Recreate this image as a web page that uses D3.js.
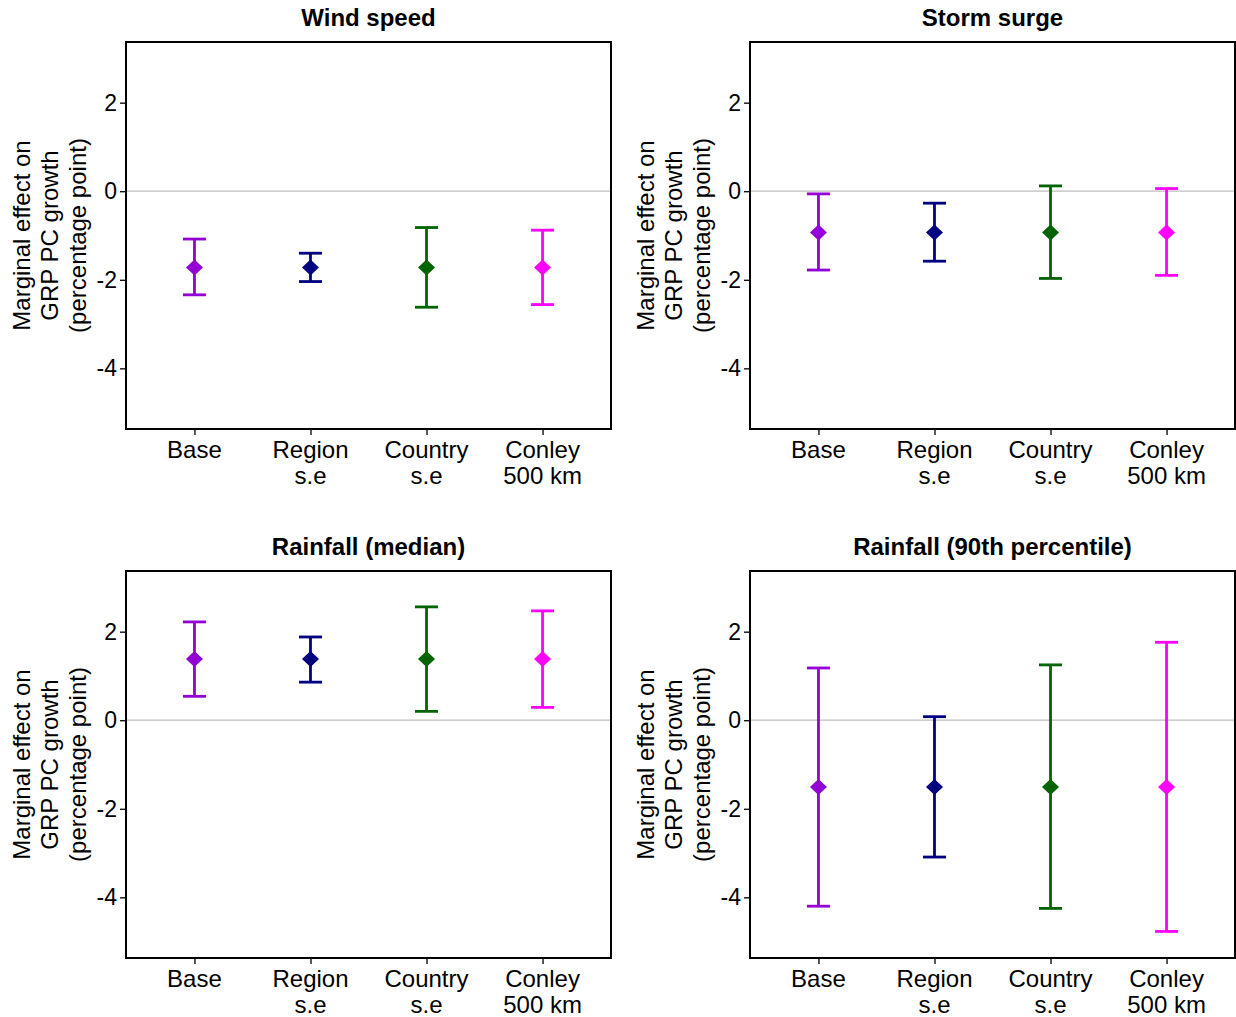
<!DOCTYPE html>
<html>
<head>
<meta charset="utf-8">
<script src="https://cdn.jsdelivr.net/npm/d3@7"></script>
<style>
  body { margin: 0; background: #fff; }
  text { font-family: "Liberation Sans", Arial, sans-serif; fill: #000; }
</style>
</head>
<body>
<div id="chart"></div>
<script>
// Data
const categories = ["Base", "Region\ns.e", "Country\ns.e", "Conley\n500 km"];
const colors = ["#9400d3", "#000080", "#006400", "#ff00ff"];
const panelTitles = ["Wind speed", "Storm surge", "Rainfall (median)", "Rainfall (90th percentile)"];
const estimates = [-1.72, -0.93, 1.38, -1.51];
const lowerCI = [
  [-2.34, -2.04, -2.62, -2.56],
  [-1.78, -1.58, -1.97, -1.90],
  [0.54, 0.86, 0.20, 0.29],
  [-4.20, -3.09, -4.25, -4.77]
];
const upperCI = [
  [-1.08, -1.40, -0.82, -0.88],
  [-0.06, -0.27, 0.12, 0.06],
  [2.22, 1.88, 2.56, 2.47],
  [1.18, 0.08, 1.25, 1.76]
];
const yTicks = [-4, -2, 0, 2];
const yLabelLines = ["Marginal effect on", "GRP PC growth", "(percentage point)"];

const width = 1236, height = 1017;
const svg = d3.select("#chart").append("svg")
  .attr("width", width).attr("height", height);

const panelW = 485, panelH = 387;
const origins = [[126, 42], [750, 42], [126, 571], [750, 571]];

const x = d3.scalePoint().domain(categories).range([0, panelW]).padding(0.59);
const y = d3.scaleLinear().domain([-5.37, 3.37]).range([panelH, 0]);

panelTitles.forEach((title, p) => {
  const g = svg.append("g").attr("transform", `translate(${origins[p][0]},${origins[p][1]})`);

  // zero line
  g.append("line")
    .attr("x1", 0).attr("x2", panelW)
    .attr("y1", y(0)).attr("y2", y(0))
    .attr("stroke", "#bebebe").attr("stroke-width", 1.3);

  // error bars
  const rows = categories.map((c, i) => ({ c, i, lo: lowerCI[p][i], hi: upperCI[p][i], est: estimates[p] }));
  const bars = g.selectAll(".bar").data(rows).join("g").attr("class", "bar")
    .attr("stroke", d => colors[d.i]).attr("stroke-width", 2.8);
  bars.append("line")
    .attr("x1", d => x(d.c)).attr("x2", d => x(d.c))
    .attr("y1", d => y(d.lo)).attr("y2", d => y(d.hi));
  bars.append("line")
    .attr("x1", d => x(d.c) - 11.5).attr("x2", d => x(d.c) + 11.5)
    .attr("y1", d => y(d.lo)).attr("y2", d => y(d.lo));
  bars.append("line")
    .attr("x1", d => x(d.c) - 11.5).attr("x2", d => x(d.c) + 11.5)
    .attr("y1", d => y(d.hi)).attr("y2", d => y(d.hi));

  // diamonds
  g.selectAll(".pt").data(rows).join("path").attr("class", "pt")
    .attr("d", d => {
      const cx = x(d.c), cy = y(d.est), w = 8.5, h = 8;
      return `M${cx},${cy - h}L${cx + w},${cy}L${cx},${cy + h}L${cx - w},${cy}Z`;
    })
    .attr("fill", d => colors[d.i]);

  // frame
  g.append("rect")
    .attr("width", panelW).attr("height", panelH)
    .attr("fill", "none").attr("stroke", "#000").attr("stroke-width", 2);

  // y axis
  const yAxis = g.append("g")
    .call(d3.axisLeft(y).tickValues(yTicks).tickSize(6).tickPadding(3).tickFormat(d => String(d)));
  yAxis.select(".domain").remove();
  yAxis.selectAll("line").attr("stroke", "#000").attr("stroke-width", 1.3);
  yAxis.selectAll("text").attr("font-size", 23).attr("font-family", "Liberation Sans, Arial, sans-serif");

  // x axis
  const xAxis = g.append("g").attr("transform", `translate(0,${panelH})`)
    .call(d3.axisBottom(x).tickSize(6).tickFormat(""));
  xAxis.select(".domain").remove();
  xAxis.selectAll("line").attr("stroke", "#000").attr("stroke-width", 1.3);
  categories.forEach(c => {
    const t = g.append("text")
      .attr("x", x(c)).attr("y", panelH + 29)
      .attr("text-anchor", "middle").attr("font-size", 24);
    c.split("\n").forEach((line, k) => {
      t.append("tspan").attr("x", x(c)).attr("dy", k === 0 ? 0 : 26).text(line);
    });
  });

  // title
  g.append("text")
    .attr("x", panelW / 2).attr("y", -16)
    .attr("text-anchor", "middle")
    .attr("font-size", 24).attr("font-weight", "bold")
    .text(title);

  // y label
  const yl = g.append("text")
    .attr("transform", `translate(-96,${panelH / 2}) rotate(-90)`)
    .attr("text-anchor", "middle").attr("font-size", 24);
  yLabelLines.forEach((line, k) => {
    yl.append("tspan").attr("x", 0).attr("dy", k === 0 ? 0 : 28).text(line);
  });
});
</script>
</body>
</html>
